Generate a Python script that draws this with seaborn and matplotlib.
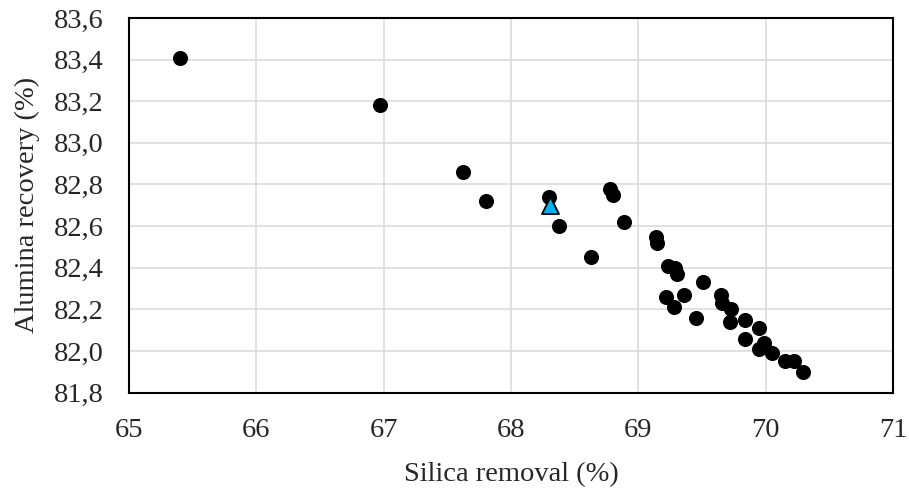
import matplotlib
matplotlib.use("Agg")
import matplotlib.pyplot as plt
import seaborn as sns
import pandas as pd

silica_removal = [65.40, 66.97, 67.62, 67.80, 68.30, 68.38, 68.63, 68.78, 68.80, 68.89,
                  69.14, 69.15, 69.23, 69.29, 69.30, 69.51, 69.22, 69.36, 69.28, 69.45,
                  69.65, 69.66, 69.73, 69.72, 69.84, 69.95, 69.84, 69.99, 69.95, 70.05,
                  70.15, 70.22, 70.29]
alumina_recovery = [83.41, 83.18, 82.86, 82.72, 82.74, 82.60, 82.45, 82.78, 82.75, 82.62,
                    82.55, 82.52, 82.41, 82.40, 82.37, 82.33, 82.26, 82.27, 82.21, 82.16,
                    82.27, 82.23, 82.20, 82.14, 82.15, 82.11, 82.06, 82.04, 82.01, 81.99,
                    81.95, 81.95, 81.90]
highlight_x = [68.31]
highlight_y = [82.70]

x_ticks = [65, 66, 67, 68, 69, 70, 71]
x_tick_labels = ["65", "66", "67", "68", "69", "70", "71"]
y_ticks = [81.8, 82.0, 82.2, 82.4, 82.6, 82.8, 83.0, 83.2, 83.4, 83.6]
y_tick_labels = ["81,8", "82,0", "82,2", "82,4", "82,6", "82,8", "83,0", "83,2", "83,4", "83,6"]

sns.set_style("white")
plt.rcParams["font.family"] = ["Liberation Serif", "DejaVu Serif"]

fig = plt.figure(figsize=(9.09, 4.93), dpi=100)
ax = fig.add_axes([0.1419, 0.2036, 0.8405, 0.7599])

df = pd.DataFrame({"x": silica_removal, "y": alumina_recovery})
hl = pd.DataFrame({"x": highlight_x, "y": highlight_y})

sns.scatterplot(data=df, x="x", y="y", ax=ax, color="black", s=118,
                edgecolor="black", linewidth=0, zorder=3)
sns.scatterplot(data=hl, x="x", y="y", ax=ax, color="#00B0F0", marker="^", s=150,
                edgecolor="black", linewidth=1.3, zorder=4)

ax.set_xlim(65, 71)
ax.set_ylim(81.8, 83.6)
ax.set_xticks(x_ticks)
ax.set_xticklabels(x_tick_labels)
ax.set_yticks(y_ticks)
ax.set_yticklabels(y_tick_labels)
ax.grid(True, color="#D9D9D9", linewidth=1.1, zorder=0)
ax.set_axisbelow(True)
for sp in ax.spines.values():
    sp.set_visible(True)
    sp.set_color("black")
    sp.set_linewidth(1.5)
ax.tick_params(axis="both", length=0, labelsize=20.5, pad=18)
ax.set_xlabel("Silica removal (%)", fontsize=20.5, labelpad=14)
ax.set_ylabel("Alumina recovery (%)", fontsize=20.5, labelpad=10)

fig.savefig("out.png", dpi=100)
